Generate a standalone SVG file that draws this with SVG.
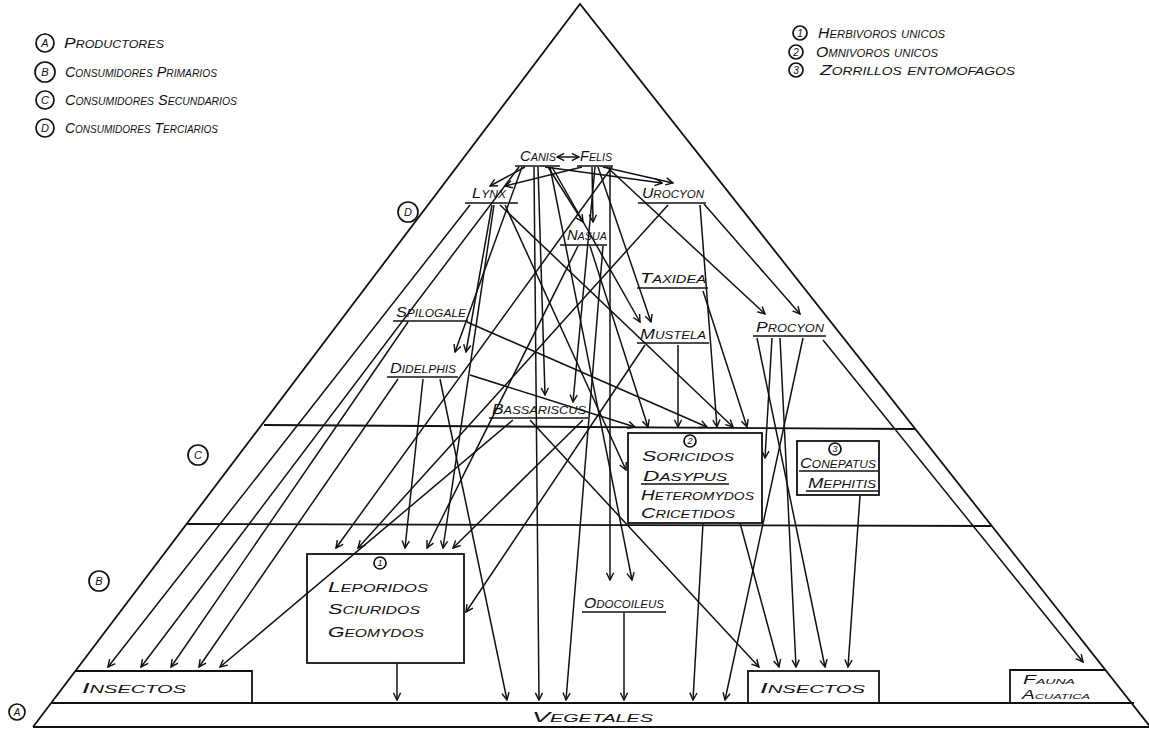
<svg xmlns="http://www.w3.org/2000/svg" width="1149" height="729" viewBox="0 0 1149 729">
<defs>
<marker id="ah" viewBox="0 0 10 10" refX="9" refY="5" markerWidth="9" markerHeight="9" markerUnits="userSpaceOnUse" orient="auto-start-reverse">
<path d="M1,1 L9,5 L1,9" fill="none" stroke="#111" stroke-width="1.6"/>
</marker>
</defs>
<style>
.fr{stroke:#111;stroke-width:1.8;fill:none}
.ln{stroke:#111;stroke-width:1.5;fill:none;marker-end:url(#ah)}
.ul{stroke:#111;stroke-width:1.4}
.t{font-family:"Liberation Sans",Arial,sans-serif;font-style:italic;font-variant:small-caps;font-size:15px;fill:#111}
.s{font-size:14px}
.c{fill:none;stroke:#111;stroke-width:1.7}
.ct{font-family:"Liberation Sans",Arial,sans-serif;font-style:italic;font-size:11px;fill:#111;text-anchor:middle}
</style>
<rect width="1149" height="729" fill="#fff"/>

<g id="frame">
<path class="fr" d="M33,727 L580,4 L1152,729"/>
<line class="fr" x1="264" y1="425" x2="915" y2="429"/>
<line class="fr" x1="187" y1="524" x2="991" y2="526"/>
<line class="fr" x1="51" y1="703" x2="1134" y2="703"/>
<line class="fr" x1="33" y1="727" x2="1149" y2="727"/>
</g>

<g id="legend">
<circle class="c" cx="45" cy="43" r="9"/><text class="ct" x="45" y="47">A</text>
<text class="t s" x="64" y="48" textLength="100" lengthAdjust="spacingAndGlyphs">Productores</text>
<circle class="c" cx="45" cy="72" r="10"/><text class="ct" x="45" y="76">B</text>
<text class="t s" x="65" y="77" textLength="152" lengthAdjust="spacingAndGlyphs">Consumidores Primarios</text>
<circle class="c" cx="45" cy="100" r="9"/><text class="ct" x="45" y="104">C</text>
<text class="t s" x="65" y="105" textLength="172" lengthAdjust="spacingAndGlyphs">Consumidores Secundarios</text>
<circle class="c" cx="45" cy="128" r="9"/><text class="ct" x="45" y="132">D</text>
<text class="t s" x="65" y="133" textLength="153" lengthAdjust="spacingAndGlyphs">Consumidores Terciarios</text>
</g>

<g id="legend2">
<circle class="c" cx="800" cy="33" r="7"/><text class="ct" x="800" y="37" style="font-size:10px">1</text>
<text class="t s" x="818" y="38" textLength="127" lengthAdjust="spacingAndGlyphs">Herbivoros unicos</text>
<circle class="c" cx="796" cy="52" r="7"/><text class="ct" x="796" y="56" style="font-size:10px">2</text>
<text class="t s" x="816" y="57" textLength="122" lengthAdjust="spacingAndGlyphs">Omnivoros unicos</text>
<circle class="c" cx="796" cy="70" r="7"/><text class="ct" x="796" y="74" style="font-size:10px">3</text>
<text class="t s" x="820" y="75" textLength="195" lengthAdjust="spacingAndGlyphs">Zorrillos entomofagos</text>
</g>

<g id="levels">
<circle class="c" cx="408" cy="212" r="10"/><text class="ct" x="408" y="216">D</text>
<circle class="c" cx="198" cy="455" r="10"/><text class="ct" x="198" y="459">C</text>
<circle class="c" cx="99" cy="581" r="10"/><text class="ct" x="99" y="585">B</text>
<circle class="c" cx="17" cy="712" r="8"/><text class="ct" x="17" y="716" style="font-size:10px">A</text>
</g>

<g id="connectors">
<line class="ln" x1="557" y1="157" x2="579" y2="157" style="marker-start:url(#ah)"/>
<line class="ln" x1="525" y1="167" x2="490" y2="186"/>
<line class="ln" x1="582" y1="167" x2="505" y2="186"/>
<line class="ln" x1="545" y1="167" x2="662" y2="183"/>
<line class="ln" x1="603" y1="167" x2="673" y2="183"/>
<line class="ln" x1="548" y1="167" x2="583" y2="222"/>
<line class="ln" x1="592" y1="167" x2="593" y2="222"/>
<line class="ln" x1="522" y1="167" x2="455" y2="352"/>
<line class="ln" x1="492" y1="205" x2="466" y2="352"/>
<line class="ln" x1="552" y1="167" x2="640" y2="322"/>
<line class="ln" x1="598" y1="167" x2="651" y2="322"/>
<line class="ln" x1="607" y1="167" x2="765" y2="314"/>
<line class="ln" x1="704" y1="204" x2="800" y2="314"/>
<line class="ln" x1="538" y1="167" x2="545" y2="395"/>
<line class="ln" x1="595" y1="167" x2="573" y2="402"/>
<line class="ln" x1="534" y1="167" x2="539" y2="700"/>
<line class="ln" x1="519" y1="167" x2="141" y2="667"/>
<line class="ln" x1="612" y1="167" x2="336" y2="548"/>
<line class="ln" x1="668" y1="205" x2="358" y2="548"/>
<line class="ln" x1="610" y1="167" x2="610" y2="580"/>
<line class="ln" x1="550" y1="167" x2="632" y2="580"/>
<line class="ln" x1="470" y1="205" x2="108" y2="667"/>
<line class="ln" x1="494" y1="205" x2="443" y2="548"/>
<line class="ln" x1="500" y1="205" x2="733" y2="427"/>
<line class="ln" x1="505" y1="205" x2="626" y2="470"/>
<line class="ln" x1="700" y1="205" x2="717" y2="427"/>
<line class="ln" x1="578" y1="246" x2="427" y2="548"/>
<line class="ln" x1="590" y1="246" x2="648" y2="427"/>
<line class="ln" x1="603" y1="246" x2="566" y2="700"/>
<line class="ln" x1="703" y1="291" x2="747" y2="427"/>
<line class="ln" x1="408" y1="322" x2="171" y2="667"/>
<line class="ln" x1="467" y1="322" x2="707" y2="427"/>
<line class="ln" x1="678" y1="345" x2="678" y2="427"/>
<line class="ln" x1="645" y1="345" x2="466" y2="612"/>
<line class="ln" x1="470" y1="375" x2="635" y2="427"/>
<line class="ln" x1="423" y1="379" x2="405" y2="548"/>
<line class="ln" x1="440" y1="379" x2="507" y2="700"/>
<line class="ln" x1="398" y1="379" x2="199" y2="667"/>
<line class="ln" x1="583" y1="420" x2="453" y2="548"/>
<line class="ln" x1="530" y1="420" x2="759" y2="667"/>
<line class="ln" x1="513" y1="420" x2="220" y2="667"/>
<line class="ln" x1="772" y1="338" x2="765" y2="458"/>
<line class="ln" x1="803" y1="338" x2="725" y2="700"/>
<line class="ln" x1="780" y1="338" x2="796" y2="667"/>
<line class="ln" x1="757" y1="338" x2="825" y2="667"/>
<line class="ln" x1="823" y1="340" x2="1083" y2="662"/>
<line class="ln" x1="703" y1="523" x2="693" y2="700"/>
<line class="ln" x1="740" y1="523" x2="779" y2="667"/>
<line class="ln" x1="860" y1="496" x2="848" y2="667"/>
<line class="ln" x1="397" y1="663" x2="397" y2="700"/>
<line class="ln" x1="624" y1="613" x2="624" y2="700"/>
</g>

<g id="n-canis"><text class="t" x="520" y="161" textLength="36" lengthAdjust="spacingAndGlyphs">Canis</text><line class="ul" x1="515" y1="166" x2="560" y2="166"/></g>
<g id="n-felis"><text class="t" x="580" y="161" textLength="32" lengthAdjust="spacingAndGlyphs">Felis</text><line class="ul" x1="577" y1="166" x2="613" y2="166"/></g>
<g id="n-lynx"><text class="t" x="472" y="198" textLength="34" lengthAdjust="spacingAndGlyphs">Lynx</text><line class="ul" x1="465" y1="203" x2="518" y2="203"/></g>
<g id="n-urocyon"><text class="t" x="642" y="198" textLength="62" lengthAdjust="spacingAndGlyphs">Urocyon</text><line class="ul" x1="638" y1="203" x2="706" y2="203"/></g>
<g id="n-nasua"><text class="t" x="567" y="240" textLength="40" lengthAdjust="spacingAndGlyphs">Nasua</text><line class="ul" x1="560" y1="245" x2="607" y2="245"/></g>
<g id="n-taxidea"><text class="t" x="640" y="283" textLength="66" lengthAdjust="spacingAndGlyphs">Taxidea</text><line class="ul" x1="637" y1="288" x2="708" y2="288"/></g>
<g id="n-spilogale"><text class="t" x="396" y="317" textLength="70" lengthAdjust="spacingAndGlyphs">Spilogale</text><line class="ul" x1="393" y1="321" x2="468" y2="321"/></g>
<g id="n-mustela"><text class="t" x="640" y="339" textLength="66" lengthAdjust="spacingAndGlyphs">Mustela</text><line class="ul" x1="637" y1="343" x2="709" y2="343"/></g>
<g id="n-procyon"><text class="t" x="756" y="332" textLength="68" lengthAdjust="spacingAndGlyphs">Procyon</text><line class="ul" x1="753" y1="336" x2="826" y2="336"/></g>
<g id="n-didelphis"><text class="t" x="390" y="373" textLength="66" lengthAdjust="spacingAndGlyphs">Didelphis</text><line class="ul" x1="387" y1="377" x2="458" y2="377"/></g>
<g id="n-bassariscus"><text class="t" x="492" y="414" textLength="94" lengthAdjust="spacingAndGlyphs">Bassariscus</text><line class="ul" x1="489" y1="418" x2="588" y2="418"/></g>
<g id="n-odocoileus"><text class="t" x="584" y="608" textLength="80" lengthAdjust="spacingAndGlyphs">Odocoileus</text><line class="ul" x1="582" y1="612" x2="666" y2="612"/></g>

<g id="n-omnivoros">
<rect class="fr" x="628" y="433" width="134" height="90"/>
<circle class="c" cx="690" cy="441" r="6"/><text class="ct" x="690" y="444" style="font-size:9px">2</text>
<text class="t" x="642" y="461" textLength="92" lengthAdjust="spacingAndGlyphs">Soricidos</text>
<text class="t" x="643" y="481" textLength="84" lengthAdjust="spacingAndGlyphs">Dasypus</text><line class="ul" x1="641" y1="484" x2="729" y2="484"/>
<text class="t" x="641" y="500" textLength="113" lengthAdjust="spacingAndGlyphs">Heteromydos</text>
<text class="t" x="641" y="518" textLength="94" lengthAdjust="spacingAndGlyphs">Cricetidos</text>
</g>
<g id="n-zorrillos">
<rect class="fr" x="797" y="441" width="82" height="54"/>
<circle class="c" cx="835" cy="449" r="6"/><text class="ct" x="835" y="452" style="font-size:9px">3</text>
<text class="t" x="800" y="468" textLength="76" lengthAdjust="spacingAndGlyphs">Conepatus</text><line class="ul" x1="799" y1="471" x2="878" y2="471"/>
<text class="t" x="808" y="488" textLength="68" lengthAdjust="spacingAndGlyphs">Mephitis</text><line class="ul" x1="806" y1="491" x2="878" y2="491"/>
</g>
<g id="n-herbivoros">
<rect class="fr" x="307" y="554" width="157" height="109"/>
<circle class="c" cx="380" cy="563" r="6"/><text class="ct" x="380" y="566" style="font-size:9px">1</text>
<text class="t" x="328" y="592" textLength="100" lengthAdjust="spacingAndGlyphs">Leporidos</text>
<text class="t" x="328" y="614" textLength="92" lengthAdjust="spacingAndGlyphs">Sciuridos</text>
<text class="t" x="328" y="637" textLength="96" lengthAdjust="spacingAndGlyphs">Geomydos</text>
</g>
<g id="n-insectos-1">
<path class="fr" d="M75,671 H252 V703"/>
<text class="t" x="82" y="693" textLength="104" lengthAdjust="spacingAndGlyphs">Insectos</text>
</g>
<g id="n-insectos-2">
<rect class="fr" x="748" y="671" width="131" height="32"/>
<text class="t" x="760" y="693" textLength="105" lengthAdjust="spacingAndGlyphs">Insectos</text>
</g>
<g id="n-fauna">
<path class="fr" d="M1010,703 V670 H1105"/>
<text class="t" x="1023" y="684" textLength="52" lengthAdjust="spacingAndGlyphs" style="font-size:12px">Fauna</text>
<text class="t" x="1022" y="699" textLength="68" lengthAdjust="spacingAndGlyphs" style="font-size:12px">Acuatica</text>
</g>
<g id="n-vegetales">
<text class="t" x="532" y="722" textLength="121" lengthAdjust="spacingAndGlyphs">Vegetales</text>
</g>
</svg>
